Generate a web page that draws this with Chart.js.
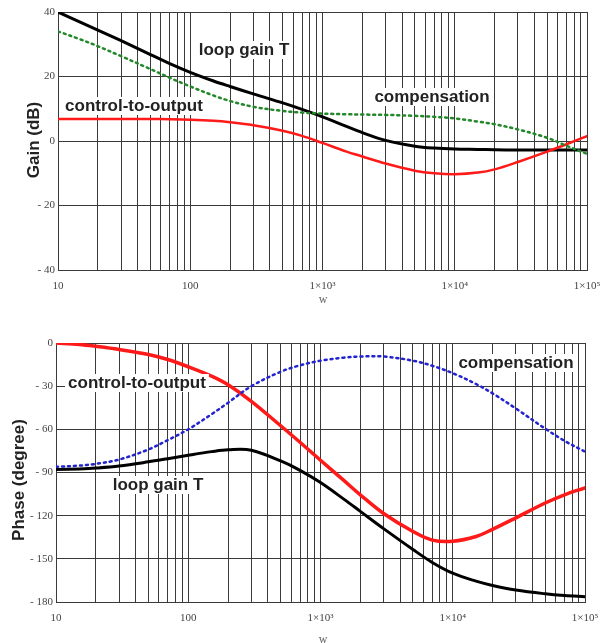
<!DOCTYPE html>
<html>
<head>
<meta charset="utf-8">
<script src="https://cdn.jsdelivr.net/npm/chart.js@4.4.1/dist/chart.umd.min.js"></script>
<style>
  html, body { margin: 0; padding: 0; background: #fff; }
  #wrap { position: relative; width: 611px; height: 643px; overflow: hidden; }
  canvas { position: absolute; left: 0; }
  #gain { top: 0; }
  #phase { top: 310px; }
</style>
</head>
<body>
<div id="wrap">
  <canvas id="gain" width="611" height="310"></canvas>
  <canvas id="phase" width="611" height="333"></canvas>
</div>
<script>
// frequency points (rad/s)
const freq = [10, 15, 20, 30, 50, 70, 100, 150, 200, 300, 500, 700, 1000, 1500, 2000, 3000, 5000, 7000, 10000, 15000, 20000, 30000, 50000, 70000, 100000];

// gain (dB)
const gainLoop = [40, 36.7, 34.4, 31.1, 26.8, 24, 21.3, 18.6, 16.9, 14.6, 11.8, 9.8, 7.5, 4.6, 2.6, 0.2, -1.6, -2.2, -2.5, -2.6, -2.7, -2.8, -2.8, -2.8, -2.8];
const gainPlant = [6.8, 6.8, 6.8, 6.8, 6.8, 6.75, 6.6, 6.25, 5.8, 4.9, 3.2, 1.6, -0.6, -3.2, -4.8, -7, -9.2, -10, -10.3, -9.8, -8.8, -6.5, -3.3, -1, 1.5];
const gainComp = [34, 31.4, 29.4, 26.3, 22.3, 19.6, 16.9, 14.1, 12.4, 10.6, 9.3, 8.8, 8.5, 8.3, 8.2, 8.1, 7.8, 7.5, 7, 6, 5.2, 3.6, 1, -1.5, -4];

// phase (degree)
const phaseLoop = [-88, -87.5, -86.9, -85.5, -82.6, -80.4, -78, -75.5, -74.2, -74.5, -82, -88.5, -97, -108.5, -117, -129, -143.5, -152.5, -160, -165.5, -168.5, -171.7, -174.3, -175.5, -176.3];
const phasePlant = [0, -1, -2.3, -4.5, -8, -11.5, -16.5, -23, -29, -40.5, -57.5, -69, -81.5, -95.5, -105.5, -118.5, -131, -137, -137.8, -134.5, -129.5, -121.5, -111.2, -105.5, -100.7];
const phaseComp = [-86, -85.2, -84, -81, -74, -67.5, -60, -49.5, -41.5, -30, -20, -15.5, -12.3, -10.2, -9.4, -9.4, -12.3, -15.8, -21, -28.5, -35, -45.5, -59.5, -68, -75.5];

const xMajor = { 10: '10', 100: '100', 1000: '1×10³', 10000: '1×10⁴', 100000: '1×10⁵' };
const gainTicks = [-40, -20, 0, 20, 40];
const phaseTicks = [-180, -150, -120, -90, -60, -30, 0];

const gridColor = '#3a3a3a';
const tickFont = { family: '"Liberation Serif", "DejaVu Serif", serif', size: 11 };

function pts(ys) { return freq.map((f, i) => ({ x: f, y: ys[i] })); }

function xTickValues() {
  const out = [];
  for (let e = 1; e < 5; e++) for (let m = 1; m < 10; m++) out.push(m * Math.pow(10, e));
  out.push(100000);
  return out;
}

function fmtY(v) { return v < 0 ? '- ' + Math.abs(v) : String(v); }

function textPlugin(labels, yTitle, wPos) {
  return {
    id: 'texts',
    afterDraw(chart) {
      const ctx = chart.ctx;
      ctx.save();
      ctx.font = 'bold 17px "Liberation Sans", Arial, sans-serif';
      ctx.textAlign = 'center';
      ctx.textBaseline = 'middle';
      labels.forEach(l => {
        const w = ctx.measureText(l.text).width;
        ctx.fillStyle = '#fff';
        ctx.fillRect(l.x - w / 2 - 3, l.y - 9, w + 6, 18);
        ctx.fillStyle = '#222';
        ctx.fillText(l.text, l.x, l.y);
      });
      ctx.translate(yTitle.x, yTitle.y);
      ctx.rotate(-Math.PI / 2);
      ctx.fillStyle = '#222';
      ctx.fillText(yTitle.text, 0, 0);
      ctx.restore();
      ctx.save();
      ctx.font = '12px "Liberation Serif", serif';
      ctx.fillStyle = '#666';
      ctx.textAlign = 'center';
      ctx.textBaseline = 'middle';
      ctx.fillText('w', wPos.x, wPos.y);
      ctx.restore();
    }
  };
}

function makeChart(id, sets, yMin, yMax, yVals, layout, plugin) {
  return new Chart(document.getElementById(id), {
    type: 'line',
    data: { datasets: sets },
    options: {
      responsive: false,
      animation: false,
      layout: { padding: { left: 0, right: layout.right, top: layout.top, bottom: 0 } },
      plugins: { legend: { display: false }, tooltip: { enabled: false } },
      elements: { point: { radius: 0 }, line: { tension: 0.35, borderCapStyle: 'round', borderJoinStyle: 'round' } },
      scales: {
        x: {
          type: 'logarithmic',
          min: 10, max: 100000,
          afterBuildTicks: s => { s.ticks = xTickValues().map(v => ({ value: v })); },
          afterFit: s => { s.height = layout.xh; },
          grid: { color: gridColor, lineWidth: 1, drawTicks: false },
          border: { color: gridColor },
          ticks: {
            autoSkip: false, maxRotation: 0, padding: 10,
            color: '#444', font: tickFont,
            callback: v => xMajor[v] || ''
          }
        },
        y: {
          min: yMin, max: yMax,
          afterBuildTicks: s => { s.ticks = yVals.map(v => ({ value: v })); },
          afterFit: s => { s.width = layout.yw; },
          grid: { color: gridColor, lineWidth: 1, drawTicks: false },
          border: { color: gridColor },
          ticks: { padding: 3, color: '#444', font: tickFont, callback: v => fmtY(v) }
        }
      }
    },
    plugins: [plugin]
  });
}

makeChart('gain', [
  { data: pts(gainComp), borderColor: '#23882a', borderWidth: 2.5, borderDash: [2, 4] },
  { data: pts(gainPlant), borderColor: '#ff1a1a', borderWidth: 2.5 },
  { data: pts(gainLoop), borderColor: '#000', borderWidth: 3 }
], -40, 40, gainTicks, { right: 24, top: 12, xh: 40, yw: 58 },
  textPlugin([
    { text: 'loop gain T', x: 244, y: 50 },
    { text: 'control-to-output', x: 134, y: 106 },
    { text: 'compensation', x: 432, y: 97 }
  ], { text: 'Gain (dB)', x: 34, y: 140 }, { x: 323, y: 300 }));

makeChart('phase', [
  { data: pts(phaseComp), borderColor: '#2323d0', borderWidth: 2.5, borderDash: [2, 4] },
  { data: pts(phaseLoop), borderColor: '#000', borderWidth: 3 },
  { data: pts(phasePlant), borderColor: '#ff1a1a', borderWidth: 3.5 }
], -180, 0, phaseTicks, { right: 26, top: 33, xh: 41, yw: 56 },
  textPlugin([
    { text: 'control-to-output', x: 137, y: 73 },
    { text: 'loop gain T', x: 158, y: 175 },
    { text: 'compensation', x: 516, y: 53 }
  ], { text: 'Phase (degree)', x: 19, y: 170 }, { x: 323, y: 330 }));
</script>
</body>
</html>
